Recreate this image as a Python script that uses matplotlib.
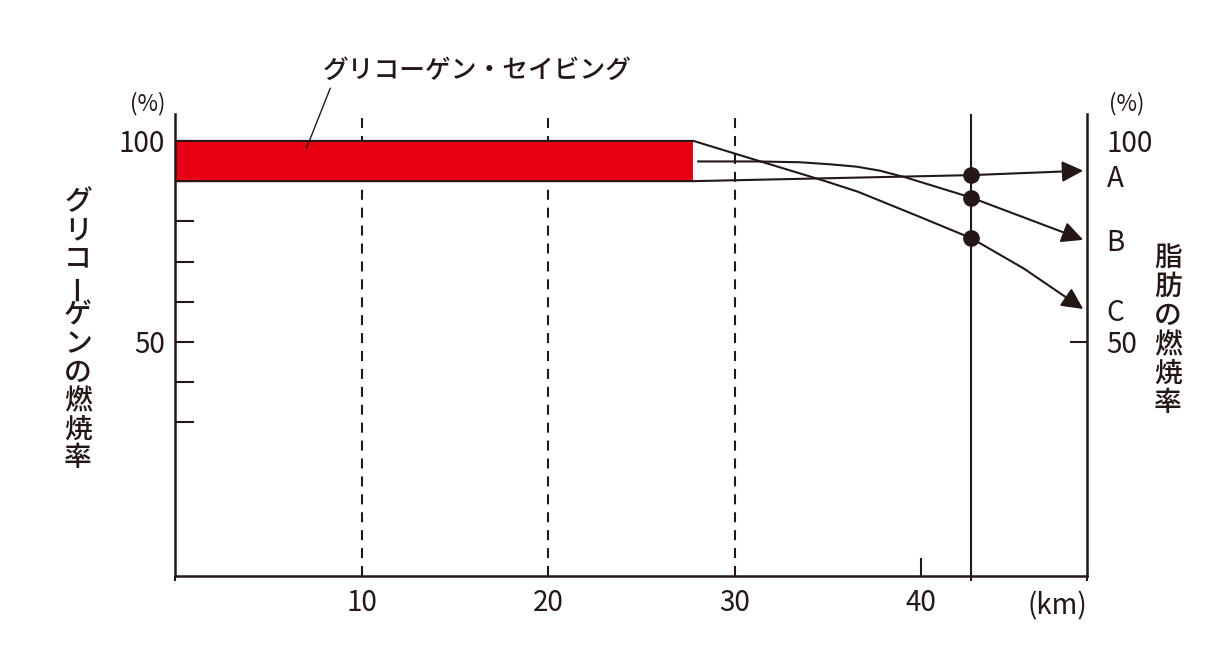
import matplotlib
matplotlib.use("Agg")
import matplotlib.pyplot as plt
from matplotlib import font_manager

# ---------------- data ----------------
finish_km = 42.7
saving_end_km = 27.8
band_low, band_high = 90, 100

a_x = [0, 27.8, 42.7, 48.7]
a_y = [90, 90, 91.5, 92.6]

b_x = [28.0, 31.2, 33.5, 35.1, 36.55, 37.8, 39.2, 42.7, 48.7]
b_y = [94.9, 94.9, 94.7, 94.2, 93.6, 92.6, 90.9, 85.9, 75.4]

c_x = [0, 27.8, 31.4, 34.8, 36.6, 40.1, 42.7, 45.5, 48.7]
c_y = [100, 100, 94.9, 90.1, 87.4, 80.8, 75.8, 68.3, 58.2]

dashed_km = [10, 20, 30]
x_tick_vals = [10, 20, 30, 40]
x_tick_labels = ["10", "20", "30", "40"]
left_tick_vals = [30, 40, 50, 60, 70, 80, 90, 100]
left_tick_labels = ["", "", "50", "", "", "", "", "100"]
right_label_vals = [100, 91.5, 75.4, 58.0]
right_labels = ["100", "A", "B", "C"]

title_label = "グリコーゲン・セイビング"
left_title = "グリコーゲンの燃焼率"
right_title = "脂肪の燃焼率"

# ---------------- style ----------------
INK = "#231815"
RED = "#E60012"
JP = ["Noto Sans CJK JP", "DejaVu Sans"]
jp_weights = {f.weight for f in font_manager.fontManager.ttflist if f.name == "Noto Sans CJK JP"}
JPW = "medium" if (500 in jp_weights or "medium" in jp_weights) else "bold"
NUM = ["Noto Sans CJK JP", "DejaVu Sans"]
NUM_SIZE = 20

plt.rcParams["font.family"] = JP
plt.rcParams["text.color"] = INK
plt.rcParams["xtick.color"] = INK
plt.rcParams["ytick.color"] = INK

W, H = 1232, 648
fig = plt.figure(figsize=(W / 100, H / 100), dpi=100)
ax = fig.add_axes([175 / W, 72 / H, 912 / W, 462 / H])
ax.set_xlim(0, 48.9)
ax.set_ylim(-8.2, 106.7)

for s in ["top", "right"]:
    ax.spines[s].set_visible(False)
for s in ["left", "bottom"]:
    ax.spines[s].set_linewidth(1.8)
    ax.spines[s].set_color(INK)

# red glycogen band
ax.barh((band_low + band_high) / 2, saving_end_km, height=band_high - band_low,
        left=0, color=RED, zorder=2)

# dashed and finish lines
for xv in dashed_km:
    ax.axvline(xv, color=INK, lw=1.5, ls=(0, (4.8, 3.8)), zorder=1)
ax.axvline(finish_km, color=INK, lw=1.5, zorder=1)

# curves with arrows
for xs, ys in [(a_x, a_y), (b_x, b_y), (c_x, c_y)]:
    ax.plot(xs[:-1], ys[:-1], color=INK, lw=1.5, zorder=3, solid_capstyle="butt",
            solid_joinstyle="round")
    ax.annotate("", xy=(xs[-1], ys[-1]), xytext=(xs[-2], ys[-2]),
                arrowprops=dict(arrowstyle="-|>,head_length=0.65,head_width=0.32",
                                mutation_scale=20, color=INK, lw=1.5,
                                shrinkA=0, shrinkB=0), zorder=3)

# dots at finish
dot_y = [a_y[a_x.index(finish_km)], b_y[b_x.index(finish_km)], c_y[c_x.index(finish_km)]]
ax.plot([finish_km] * 3, dot_y, "o", color=INK, ms=11, zorder=4)

# x axis ticks
ax.set_xticks([0] + dashed_km + [finish_km, 48.9], minor=True)
ax.set_xticks(x_tick_vals, labels=x_tick_labels)
ax.tick_params(axis="x", which="minor", direction="out", length=3.6, width=1.5)
ax.tick_params(axis="x", which="major", direction="in", length=12.5, width=1.5,
               labelsize=NUM_SIZE, pad=8.5)
for t in ax.xaxis.get_major_ticks():
    t.tick1line.set_markersize(0)
for lab in ax.get_xticklabels():
    lab.set_family(NUM)
ax.plot([40, 40], [ax.get_ylim()[0], ax.get_ylim()[0] + 4.3], color=INK, lw=1.5)
ax.text(48.9, -15.8, "(km)", ha="right", va="center", fontsize=NUM_SIZE, family=NUM)

# left axis
ax.set_yticks(left_tick_vals, labels=left_tick_labels)
ax.tick_params(axis="y", which="major", direction="in", length=13.5, width=1.5,
               labelsize=NUM_SIZE, pad=7)
for lab in ax.get_yticklabels():
    lab.set_family(NUM)
ax.text(-1.45, 109.2, "(%)", ha="center", va="center", fontsize=16)

# right axis
ax2 = ax.twinx()
ax2.set_ylim(ax.get_ylim())
for s in ["top", "left", "bottom"]:
    ax2.spines[s].set_visible(False)
ax2.spines["right"].set_linewidth(1.8)
ax2.spines["right"].set_color(INK)
ax2.set_yticks([50], labels=["50"])
ax2.set_yticks(right_label_vals, labels=right_labels, minor=True)
ax2.tick_params(axis="y", which="major", direction="in", length=12.5, width=1.5,
                labelsize=NUM_SIZE, pad=14)
ax2.tick_params(axis="y", which="minor", direction="in", length=0,
                labelsize=NUM_SIZE, pad=14)
for lab in ax2.get_yticklabels() + ax2.get_yticklabels(minor=True):
    lab.set_family(NUM)
ax2.text(51.05, 109.2, "(%)", ha="center", va="center", fontsize=16)

# annotation label with leader
ax.annotate(title_label, xy=(7.05, 98.2), xytext=(16.2, 117.5),
            ha="center", va="center", fontsize=18.5, fontweight=JPW,
            annotation_clip=False,
            arrowprops=dict(arrowstyle="-", color=INK, lw=1.0, relpos=(0.03, 0.0),
                            shrinkA=1, shrinkB=0))

# vertical titles
def vertical_text(chars, x_px, top_px, pitch):
    for i, ch in enumerate(chars):
        yc = top_px + pitch / 2 + i * pitch
        rot = 90 if ch == "ー" else 0
        fig.text(x_px / W, 1 - yc / H, ch, ha="center", va="center",
                 fontsize=20, fontweight=JPW, rotation=rot)

vertical_text(left_title, 78, 187, 28.5)
vertical_text(right_title, 1168, 243, 29)

fig.savefig("out.png", dpi=100)
